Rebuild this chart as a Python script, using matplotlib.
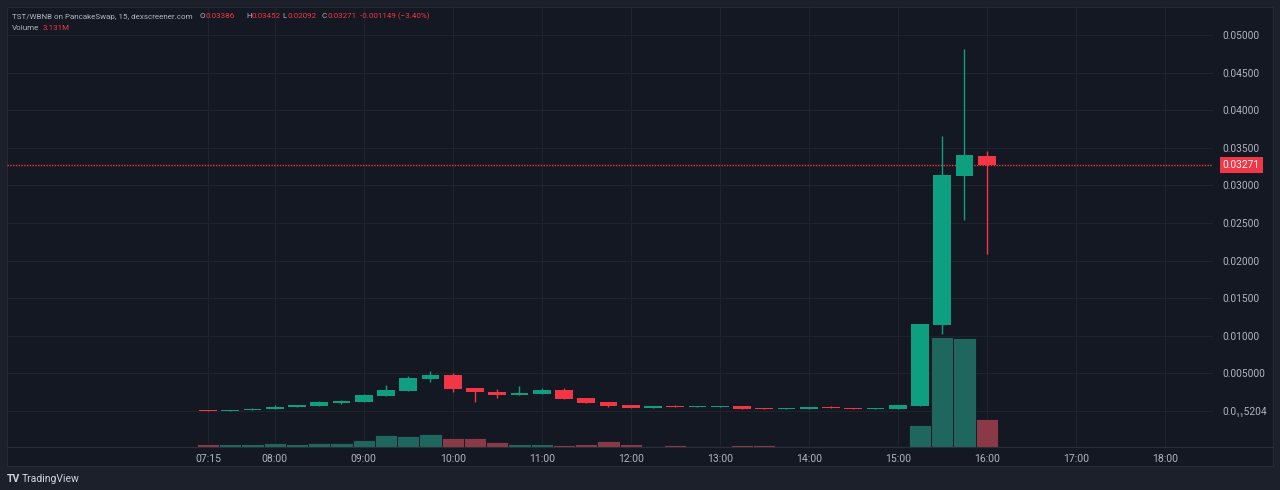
import matplotlib.pyplot as plt
from matplotlib.patches import Rectangle
import numpy as np

plt.rcParams['font.family'] = ['Roboto', 'DejaVu Sans']

# --- 15 min candles, TST/WBNB ---
times = ['07:15', '07:30', '07:45', '08:00', '08:15', '08:30', '08:45',
         '09:00', '09:15', '09:30', '09:45', '10:00', '10:15', '10:30', '10:45',
         '11:00', '11:15', '11:30', '11:45', '12:00', '12:15', '12:30', '12:45',
         '13:00', '13:15', '13:30', '13:45', '14:00', '14:15', '14:30', '14:45',
         '15:00', '15:15', '15:30', '15:45', '16:00']
opens = [0.00010, 0.00004, 0.00013, 0.00031, 0.00058, 0.00071, 0.00102,
         0.00124, 0.00204, 0.00270, 0.00430, 0.00479, 0.00310, 0.00253, 0.00217,
         0.00226, 0.00279, 0.00168, 0.00124, 0.00075, 0.00044, 0.00071, 0.00049,
         0.00058, 0.00066, 0.00035, 0.00022, 0.00022, 0.00058, 0.00040, 0.00031,
         0.00031, 0.00071, 0.01144, 0.03129, 0.03386]
highs = [0.00012, 0.00014, 0.00034, 0.00080, 0.00085, 0.00131, 0.00150,
         0.00220, 0.00346, 0.00465, 0.00532, 0.00510, 0.00310, 0.00288, 0.00332,
         0.00310, 0.00310, 0.00170, 0.00124, 0.00080, 0.00071, 0.00075, 0.00064,
         0.00068, 0.00068, 0.00037, 0.00037, 0.00055, 0.00060, 0.00042, 0.00042,
         0.00082, 0.01160, 0.03657, 0.04810, 0.03452]
lows = [0.00003, 0.00002, 0.00010, 0.00028, 0.00053, 0.00062, 0.00092,
        0.00120, 0.00200, 0.00265, 0.00390, 0.00257, 0.00115, 0.00177, 0.00217,
        0.00220, 0.00160, 0.00100, 0.00053, 0.00040, 0.00040, 0.00047, 0.00047,
        0.00056, 0.00020, 0.00020, 0.00020, 0.00020, 0.00042, 0.00025, 0.00029,
        0.00029, 0.00060, 0.01024, 0.02540, 0.02092]
closes = [0.00004, 0.00013, 0.00031, 0.00058, 0.00080, 0.00115, 0.00137,
          0.00213, 0.00279, 0.00434, 0.00483, 0.00297, 0.00248, 0.00213, 0.00235,
          0.00284, 0.00164, 0.00111, 0.00071, 0.00044, 0.00065, 0.00049, 0.00062,
          0.00066, 0.00022, 0.00022, 0.00035, 0.00053, 0.00044, 0.00027, 0.00040,
          0.00080, 0.01153, 0.03138, 0.03404, 0.03271]
volume_m = [0.34, 0.30, 0.30, 0.48, 0.37, 0.48, 0.48, 0.78, 1.34, 1.20, 1.49,
            1.04, 1.04, 0.56, 0.37, 0.30, 0.22, 0.37, 0.64, 0.34, 0.15, 0.19,
            0.08, 0.08, 0.19, 0.19, 0.08, 0.06, 0.15, 0.15, 0.06, 0.06, 2.46,
            12.3, 12.2, 3.131]

price_ticks = [0, 0.005, 0.010, 0.015, 0.020, 0.025, 0.030, 0.035, 0.040, 0.045, 0.050]
price_labels = ['0.0\u2081\u20815204', '0.005000', '0.01000', '0.01500', '0.02000',
                '0.02500', '0.03000', '0.03500', '0.04000', '0.04500', '0.05000']
time_tick_labels = ['07:15', '08:00', '09:00', '10:00', '11:00', '12:00',
                    '13:00', '14:00', '15:00', '16:00', '17:00', '18:00']
last_price = 0.03271

BG_OUT = '#1c202b'
BG_PANE = '#141823'
GRID = '#1f2330'
TXT = '#b2b5be'
UP = '#0d9f80'
DOWN = '#f23645'
UP_VOL = '#1f675e'
DOWN_VOL = '#8a3a46'

W, H = 1280, 490
fig = plt.figure(figsize=(12.8, 4.9), dpi=100, facecolor=BG_OUT)

def fb(x0, y0, x1, y1):
    return [x0 / W, 1 - y1 / H, (x1 - x0) / W, (y1 - y0) / H]

# pane background
fig.patches.append(Rectangle((7 / W, 1 - 466 / H), (1273 - 7) / W, (466 - 7) / H,
                             transform=fig.transFigure, facecolor=BG_PANE,
                             edgecolor='#262a35', linewidth=0.8, zorder=-5))

ax = fig.add_axes(fb(7, 7, 1213, 447))
ax.set_facecolor('none')
ax2 = ax.twinx()
ax2.patch.set_visible(False)

x = np.arange(len(times))
tick_idx = [0] + [3 + 4 * k for k in range(11)]

# volume (drawn above the grid)
vcol = [UP_VOL if c >= o else DOWN_VOL for o, c in zip(opens, closes)]
ax2.bar(x, volume_m, width=1.0, color=vcol, edgecolor=BG_PANE, linewidth=0.6, zorder=2)
ax2.set_ylim(0, 49.2)
ax2.set_yticks([])

# candles
for i in range(len(times)):
    o, h, l, c = opens[i], highs[i], lows[i], closes[i]
    col = UP if c >= o else DOWN
    ax.vlines(x[i], l, h, color=col, linewidth=1.0, zorder=3)
    ax.bar(x[i], max(abs(c - o), 0.00015), bottom=min(o, c), width=0.8,
           color=col, linewidth=0, zorder=4)

ax.axhline(last_price, color=DOWN, linewidth=1.0, linestyle=(0, (1, 1)), zorder=2)

ax.set_xlim(-9.03, 45.17)
ax.set_ylim(-0.004787, 0.053723)
ax.set_xticks(tick_idx)
ax.set_xticklabels(time_tick_labels)
ax.set_yticks(price_ticks)
ax.set_yticklabels(price_labels)
ax.yaxis.tick_right()
ax.tick_params(axis='y', length=0, pad=7, labelsize=7.3, labelcolor=TXT)
ax.tick_params(axis='x', length=0, pad=5, labelsize=7.5, labelcolor=TXT)
ax.grid(True, color=GRID, linewidth=0.8, zorder=0)
ax.set_axisbelow(True)
for a in (ax, ax2):
    for s in a.spines.values():
        s.set_visible(False)

# bottom border of price area
fig.add_artist(plt.Line2D([7 / W, 1273 / W], [1 - 447 / H] * 2, color='#2a2e39',
                          linewidth=0.8, transform=fig.transFigure))

# last price label
ax.annotate(f'{last_price:.5f}', xy=(1.0, last_price), xycoords=('axes fraction', 'data'),
            xytext=(7, 0), textcoords='offset points', va='center', ha='left',
            fontsize=7.3, color='white',
            bbox=dict(boxstyle='square,pad=0.3', facecolor=DOWN, edgecolor='none'))

# header, fitted to the reference width of the title run
renderer = fig.canvas.get_renderer()
hy = 1 - 16.5 / H
title = fig.text(12 / W, hy, 'TST/WBNB on PancakeSwap, 15, dexscreener.com', color=TXT,
                 fontsize=7, va='center')
tw = title.get_window_extent(renderer).width
hfs = 7 * 183 / tw
title.set_fontsize(hfs)
for px, s, c in [(200, 'O', TXT), (206, '0.03386', DOWN), (246, 'H', TXT),
                 (252, '0.03452', DOWN), (282, 'L', TXT), (287, '0.02092', DOWN),
                 (322, 'C', TXT), (327, '0.03271', DOWN),
                 (360, '-0.001149 (\u22123.40%)', DOWN)]:
    fig.text(px / W, hy, s, color=c, fontsize=hfs, va='center')
fig.text(12 / W, 1 - 27.5 / H, 'Volume', color=TXT, fontsize=hfs, va='center')
fig.text(43 / W, 1 - 27.5 / H, '3.131M', color=DOWN, fontsize=hfs, va='center')

# watermark
fig.text(7 / W, 1 - 479 / H, 'TV', color='#d1d4dc', fontsize=7.5, fontweight='bold',
         va='center')
fig.text(22 / W, 1 - 479 / H, 'TradingView', color='#d1d4dc', fontsize=7.5, va='center')

fig.savefig('out.png', dpi=100, facecolor=BG_OUT)
